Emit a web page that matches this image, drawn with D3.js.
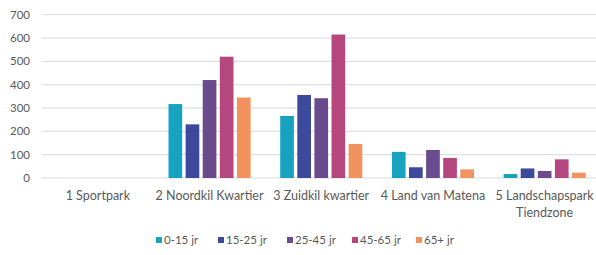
<!DOCTYPE html>
<html><head><meta charset="utf-8">
<script src="https://cdn.jsdelivr.net/npm/d3@7"></script>
<style>body{margin:0;background:#fff}svg{display:block}</style>
</head><body><svg id="c" width="596" height="255"></svg>
<script>
const categories = ["1 Sportpark","2 Noordkil Kwartier","3 Zuidkil kwartier","4 Land van Matena","5 Landschapspark Tiendzone"];
const categoryLines = [["1 Sportpark"],["2 Noordkil Kwartier"],["3 Zuidkil kwartier"],["4 Land van Matena"],["5 Landschapspark","Tiendzone"]];
const seriesNames = ["0-15 jr","15-25 jr","25-45 jr","45-65 jr","65+ jr"];
const s0_15  = [0, 317, 266, 112, 17];
const s15_25 = [0, 230, 356, 46, 41];
const s25_45 = [0, 420, 342, 120, 30];
const s45_65 = [0, 520, 615, 86, 80];
const s65p   = [0, 345, 146, 37, 23];
const yTicks = [0,100,200,300,400,500,600,700];
const colors = ["#17A3BF","#3D4A9C","#6A4C8E","#B4487E","#F2925E"];

const series = [s0_15, s15_25, s25_45, s45_65, s65p];
const svg = d3.select("#c");
const font = "Lato, 'Open Sans', sans-serif";
const txt = "#595959";

const x0 = d3.scaleBand().domain(categories).range([42, 600.5]).paddingInner(0).paddingOuter(0);
const gw = x0.bandwidth();
const x1 = d3.scaleBand().domain(seriesNames).range([14.8, gw-14.8]).paddingInner(0.2).paddingOuter(0);
const y = d3.scaleLinear().domain([0,700]).range([178, 14.7]);

// gridlines
svg.append("g").selectAll("line").data(yTicks).join("line")
  .attr("x1", 42).attr("x2", 596)
  .attr("y1", d=>y(d)).attr("y2", d=>y(d))
  .attr("stroke", "#d9d9d9").attr("stroke-width", 1);

// y labels
svg.append("g").selectAll("text").data(yTicks).join("text")
  .attr("x", 30).attr("y", d=>y(d)).attr("dy","0.35em")
  .attr("text-anchor","end").attr("font-family",font).attr("font-size","11.5px")
  .attr("fill",txt).text(d=>d);

// bars
const g = svg.append("g");
categories.forEach((c,ci)=>{
  series.forEach((s,si)=>{
    if (s[ci] <= 0) return;
    g.append("rect")
      .attr("x", x0(c)+x1(seriesNames[si]))
      .attr("width", x1.bandwidth())
      .attr("y", y(s[ci]))
      .attr("height", y(0)-y(s[ci]))
      .attr("fill", colors[si]);
  });
});

// category labels
categories.forEach((c,ci)=>{
  const t = svg.append("text").attr("font-family",font).attr("font-size","12.5px")
    .attr("fill",txt).attr("text-anchor","middle");
  categoryLines[ci].forEach((l,li)=>{
    t.append("tspan").attr("x", x0(c)+gw/2).attr("y", 196+li*17).attr("dy","0.35em").text(l);
  });
});

// legend
const legX = [156, 218, 287, 352, 416];
const lg = svg.append("g");
seriesNames.forEach((n,i)=>{
  lg.append("rect").attr("x",legX[i]).attr("y",237).attr("width",6).attr("height",6).attr("fill",colors[i]);
  lg.append("text").attr("x",legX[i]+8).attr("y",240).attr("dy","0.35em")
    .attr("font-family",font).attr("font-size","11.5px").attr("fill",txt).text(n);
});
</script></body></html>
